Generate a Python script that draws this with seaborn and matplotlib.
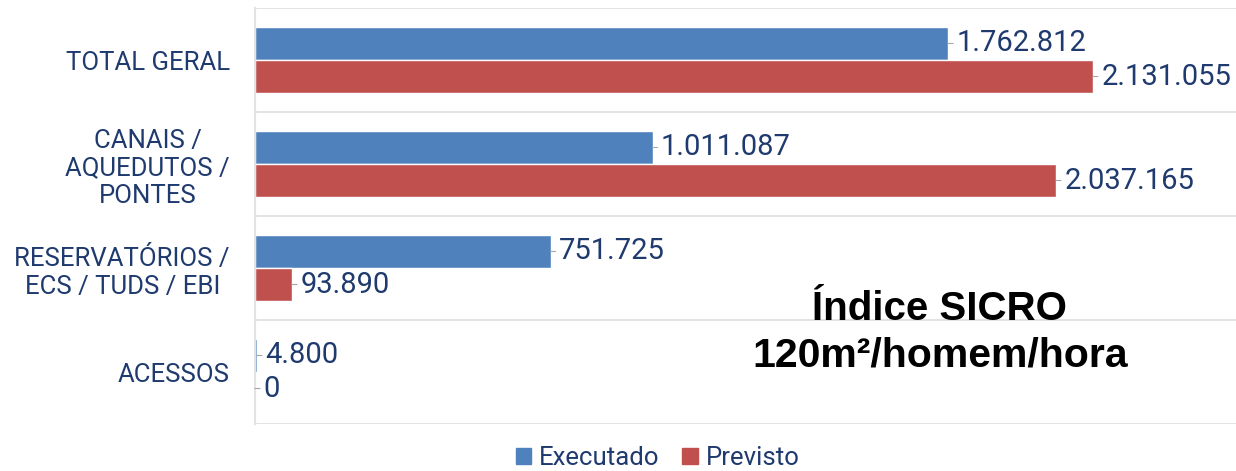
import pandas as pd
import matplotlib.pyplot as plt
import seaborn as sns

# data
categorias = ["TOTAL GERAL", "CANAIS /\nAQUEDUTOS /\nPONTES",
              "RESERVATÓRIOS /\nECS / TUDS / EBI", "ACESSOS"]
executado = [1762812, 1011087, 751725, 4800]
previsto = [2131055, 2037165, 93890, 0]
series = ["Executado", "Previsto"]

AZUL = "#4F81BD"
VERMELHO = "#C0504D"
NAVY = "#1F3A6E"
GRADE = "#E3E3E3"


def fmt_br(v):
    """Format number with dot as thousands separator."""
    return f"{v:,.0f}".replace(",", ".")


df = pd.DataFrame({
    "categoria": categorias * 2,
    "valor": executado + previsto,
    "serie": [series[0]] * len(categorias) + [series[1]] * len(categorias),
})

sns.set_style("white")
plt.rcParams["font.family"] = ["Roboto", "DejaVu Sans"]

fig = plt.figure(figsize=(12.36, 4.71), dpi=100)
ax = fig.add_axes([255 / 1236, 47 / 471, 981 / 1236, 416 / 471])

sns.barplot(data=df, y="categoria", x="valor", hue="serie", orient="h",
            palette=[AZUL, VERMELHO], saturation=1, width=0.635,
            ax=ax, legend=False)

ax.set_xlim(0, 2.495e6)
ax.set_ylim(3.5, -0.5)
ax.set_xlabel("")
ax.set_ylabel("")
ax.set_xticks([])

for y in [-0.5, 0.5, 1.5, 2.5, 3.5]:
    ax.axhline(y, color=GRADE, lw=1.5, zorder=0)

for side in ["top", "right", "bottom"]:
    ax.spines[side].set_visible(False)
ax.spines["left"].set_color(GRADE)
ax.spines["left"].set_linewidth(1.5)

ax.tick_params(axis="y", length=0, pad=18, labelsize=18.5, labelcolor=NAVY)
for lbl in ax.get_yticklabels():
    lbl.set_multialignment("center")

# value labels with small leader lines
for cont in ax.containers:
    for patch in cont:
        v = patch.get_width()
        yc = patch.get_y() + patch.get_height() / 2
        ax.annotate(fmt_br(v), xy=(v, yc), xytext=(6, 0),
                    textcoords="offset points", va="center", ha="left",
                    fontsize=21, color=NAVY,
                    arrowprops=dict(arrowstyle="-", color="#A6A6A6", lw=0.8,
                                    shrinkA=0, shrinkB=0))

fig.text(0.7605, 0.345, "Índice SICRO", ha="center", va="center",
         fontsize=29, fontweight="bold", family="Liberation Sans", color="black")
fig.text(0.7605, 0.245, "120m²/homem/hora", ha="center", va="center",
         fontsize=29.5, fontweight="bold", family="Liberation Sans", color="black")

handles = [plt.Rectangle((0, 0), 1, 1, color=c) for c in [AZUL, VERMELHO]]
leg = fig.legend(handles, series, loc="center", bbox_to_anchor=(0.532, 0.027),
                 ncol=2, frameon=False, fontsize=18.5, handlelength=0.6,
                 handleheight=0.6, handletextpad=0.3, columnspacing=0.9)
for t in leg.get_texts():
    t.set_color(NAVY)

fig.savefig("out.png", dpi=100)
